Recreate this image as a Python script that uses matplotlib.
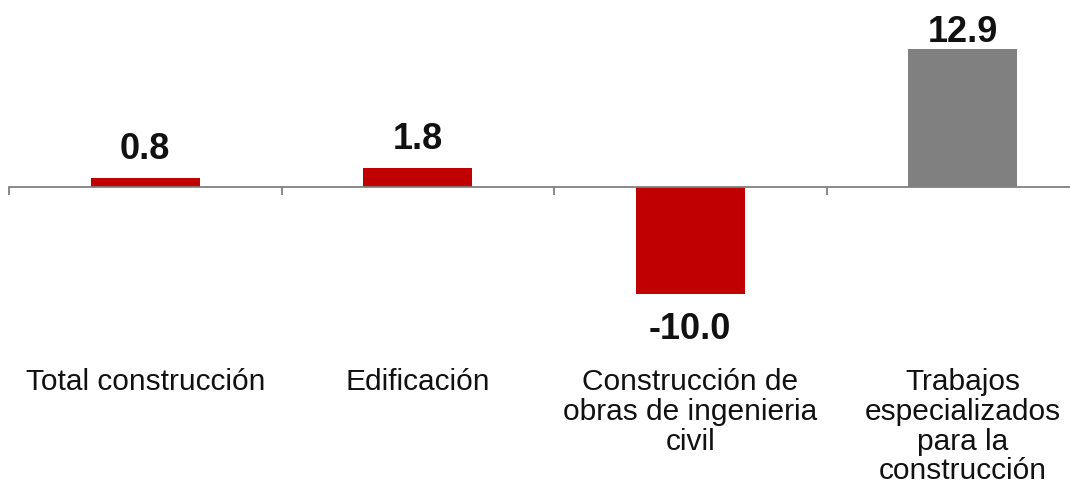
import matplotlib
matplotlib.use("Agg")
import matplotlib.pyplot as plt
from matplotlib.transforms import blended_transform_factory

categories = ["Total construcción", "Edificación",
              "Construcción de\nobras de ingenieria\ncivil",
              "Trabajos\nespecializados\npara la\nconstrucción"]
values = [0.8, 1.8, -10.0, 12.9]
value_labels = ["0.8", "1.8", "-10.0", "12.9"]
colors = ["#C00000", "#C00000", "#C00000", "#808080"]
label_offsets_px = [12, 12, 17, 0]

plt.rcParams['font.family'] = ['Liberation Sans', 'DejaVu Sans']

W, H = 1070, 489
fig = plt.figure(figsize=(W / 100, H / 100), dpi=100)
ax = fig.add_axes([9 / W, 0, 1090 / W, 1])
x = list(range(len(categories)))
ax.bar(x, values, width=0.4, color=colors, zorder=2)
ax.set_xlim(-0.5, 3.5)
ax.set_ylim(-(H - 188) / 10.7, 188 / 10.7)

for s in ["top", "right", "left"]:
    ax.spines[s].set_visible(False)
ax.spines["bottom"].set_position(("data", 0))
ax.spines["bottom"].set_color("#808080")
ax.spines["bottom"].set_linewidth(1.3)
ax.set_yticks([])
ax.set_xticks([-0.5, 0.5, 1.5, 2.5, 3.5])
ax.set_xticklabels([])
ax.tick_params(axis="x", direction="out", length=6, color="#808080", width=1.3)

for xi, v, lab, off in zip(x, values, value_labels, label_offsets_px):
    if v >= 0:
        ax.annotate(lab, (xi, v), xytext=(0, off * 0.72), textcoords="offset points",
                    ha="center", va="bottom", fontsize=26, fontweight="bold", color="#111111")
    else:
        ax.annotate(lab, (xi, v), xytext=(0, -off * 0.72), textcoords="offset points",
                    ha="center", va="top", fontsize=26, fontweight="bold", color="#111111")

trans = blended_transform_factory(ax.transData, ax.transAxes)
for xi, cat in zip(x, categories):
    ax.text(xi, 1 - 368 / H, cat, transform=trans, ha="center", va="top",
            fontsize=21.5, color="#111111", linespacing=1.08, multialignment="center")

fig.savefig("out.png", dpi=100)
